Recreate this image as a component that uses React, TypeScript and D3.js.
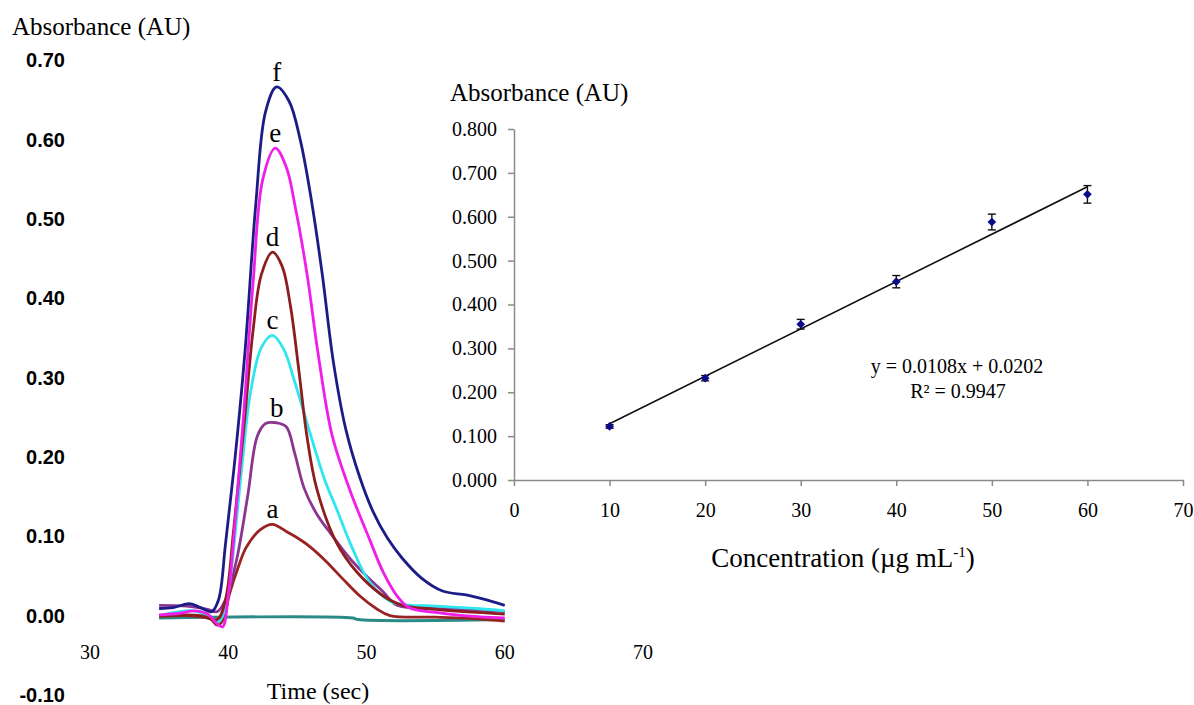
import React, { useEffect, useRef } from 'react'
import * as d3 from 'd3'

const W = 1194
const H = 705
const SERIF = '"Liberation Serif", "Times New Roman", serif'
const SANS = '"Liberation Sans", Arial, sans-serif'

// flow injection peaks: [time (sec), absorbance]
const traceA = [[35, -0.001], [37, 0.0], [38.7, -0.004], [39.2, -0.012], [39.6, -0.006], [40.1, 0.028], [40.7, 0.06], [41.3, 0.086], [42.3, 0.108], [43.2, 0.115], [44.2, 0.106], [44.9, 0.099], [45.9, 0.087], [47.1, 0.068], [48.3, 0.046], [49.5, 0.025], [50.7, 0.009], [51.7, 0.0], [55, -0.002], [58, -0.004], [60, -0.007]]
const traceB = [[35, 0.013], [37, 0.012], [38.5, 0.008], [39.2, 0.005], [39.8, 0.02], [40.6, 0.07], [41.4, 0.15], [42.1, 0.226], [42.7, 0.242], [43.5, 0.243], [44.2, 0.238], [44.8, 0.205], [45.5, 0.16], [46.4, 0.128], [47.3, 0.106], [48.8, 0.072], [50.0, 0.05], [51.2, 0.03], [52.2, 0.013], [55, 0.009], [58, 0.007], [60, 0.005]]
const traceC = [[35, 0.0], [37.5, 0.006], [38.5, 0.0], [39.3, -0.008], [39.8, 0.01], [40.2, 0.055], [41.0, 0.19], [41.6, 0.28], [42.4, 0.338], [43.2, 0.353], [44.0, 0.336], [44.8, 0.295], [46.0, 0.225], [47.0, 0.17], [47.8, 0.136], [49.0, 0.084], [50.2, 0.043], [51.7, 0.018], [52.6, 0.014], [55, 0.012], [58, 0.009], [60, 0.006]]
const traceD = [[35, 0.0], [38, 0.0], [39.2, -0.005], [39.8, 0.02], [40.4, 0.11], [41.2, 0.25], [41.8, 0.36], [42.4, 0.43], [43.2, 0.458], [43.9, 0.44], [44.5, 0.39], [45.1, 0.31], [45.7, 0.225], [46.4, 0.16], [47.8, 0.093], [49.3, 0.055], [51.2, 0.025], [52.6, 0.013], [55, 0.008], [58, 0.004], [60, 0.002]]
const traceE = [[35, 0.001], [36.5, 0.003], [37.5, 0.006], [38.5, 0.002], [39.3, -0.012], [39.6, -0.014], [40.0, 0.025], [40.5, 0.12], [41.1, 0.25], [41.8, 0.42], [42.5, 0.55], [43.4, 0.589], [44.2, 0.565], [44.9, 0.51], [45.7, 0.43], [46.5, 0.33], [47.5, 0.228], [48.8, 0.158], [50.2, 0.097], [51.2, 0.055], [52.2, 0.025], [53.1, 0.01], [55, 0.004], [57, 0.0], [60, -0.003]]
const traceF = [[35, 0.009], [36, 0.01], [37.2, 0.015], [38, 0.01], [38.8, 0.005], [39.3, 0.02], [39.8, 0.09], [40.5, 0.2], [41.2, 0.33], [42.0, 0.52], [42.7, 0.635], [43.5, 0.666], [44.4, 0.648], [45.2, 0.6], [46.0, 0.525], [46.8, 0.43], [47.6, 0.32], [48.5, 0.235], [49.5, 0.175], [50.5, 0.13], [51.5, 0.098], [52.6, 0.072], [54, 0.047], [55.5, 0.031], [57.2, 0.026], [58.4, 0.021], [60, 0.013]]
const traceBlank = [[35, -0.003], [49, -0.003], [49.4, -0.005], [60, -0.005]]

const traces = [traceA, traceB, traceC, traceD, traceE, traceF]
const traceLabels = ['a', 'b', 'c', 'd', 'e', 'f']
const traceColors = ['#9a2222', '#8c3590', '#2ee6ee', '#8e1e1e', '#f01ee8', '#1c1c86']

const timeTicks = [30, 40, 50, 60, 70]
const absTicks = [-0.1, 0, 0.1, 0.2, 0.3, 0.4, 0.5, 0.6, 0.7]

// calibration inset
const conc = [10, 20, 30, 40, 50, 60]
const meanAbs = [0.122, 0.232, 0.355, 0.452, 0.588, 0.651]
const errAbs = [0.004, 0.006, 0.011, 0.014, 0.018, 0.02]
const slope = 0.0108
const intercept = 0.0202

export default function App() {
  const svgRef = useRef<SVGSVGElement | null>(null)

  useEffect(() => {
    const svg = d3.select(svgRef.current)
    svg.selectAll('*').remove()

    // ---- left chart: peaks ----
    const x = d3.scaleLinear().domain([30, 70]).range([90, 643])
    const y = d3.scaleLinear().domain([-0.1, 0.7]).range([695, 60])

    svg.append('text')
      .attr('x', 12).attr('y', 35)
      .style('font-family', SERIF).style('font-size', '25px')
      .text('Absorbance (AU)')

    svg.append('g').selectAll('text')
      .data(absTicks)
      .enter().append('text')
      .attr('x', 65)
      .attr('y', d => y(d))
      .attr('dy', '0.36em')
      .attr('text-anchor', 'end')
      .style('font-family', SANS).style('font-size', '20px').style('font-weight', 'bold')
      .text(d => d.toFixed(2))

    svg.append('g').selectAll('text')
      .data(timeTicks)
      .enter().append('text')
      .attr('x', d => x(d))
      .attr('y', 652)
      .attr('dy', '0.35em')
      .attr('text-anchor', 'middle')
      .style('font-family', SERIF).style('font-size', '20px')
      .text(d => d)

    svg.append('text')
      .attr('x', 318).attr('y', 699)
      .attr('text-anchor', 'middle')
      .style('font-family', SERIF).style('font-size', '24px')
      .text('Time (sec)')

    const line = d3.line<number[]>()
      .x(d => x(d[0]))
      .y(d => y(d[1]))
      .curve(d3.curveCatmullRom.alpha(0.5))

    svg.append('path')
      .attr('d', line(traceBlank))
      .style('fill', 'none').style('stroke', '#2a8a88').style('stroke-width', 3)

    traces.forEach((tr, i) => {
      svg.append('path')
        .attr('d', line(tr))
        .style('fill', 'none')
        .style('stroke', traceColors[i])
        .style('stroke-width', 2.8)
        .style('stroke-linejoin', 'round')
    })

    traces.forEach((tr, i) => {
      const peak = tr.reduce((a, b) => (b[1] > a[1] ? b : a))
      svg.append('text')
        .attr('x', x(peak[0]))
        .attr('y', y(peak[1]) - 6)
        .attr('text-anchor', 'middle')
        .style('font-family', SERIF).style('font-size', '27px')
        .text(traceLabels[i])
    })

    // ---- inset: calibration curve ----
    const xr = d3.scaleLinear().domain([0, 70]).range([514, 1183])
    const yr = d3.scaleLinear().domain([0, 0.8]).range([480, 129])

    const gy = svg.append('g').attr('transform', `translate(${xr(0)},0)`)
      .call(d3.axisLeft(yr).ticks(8).tickSize(6).tickSizeOuter(0).tickPadding(11).tickFormat(d3.format('.3f')))
    const gx = svg.append('g').attr('transform', `translate(0,${yr(0)})`)
      .call(d3.axisBottom(xr).ticks(7).tickSize(6).tickSizeOuter(0).tickPadding(17))
    ;[gx, gy].forEach(g => {
      g.selectAll('path, line').style('stroke', '#8a8a8a').style('stroke-width', 1.5)
      g.selectAll('text').style('font-family', SERIF).style('font-size', '20px').style('fill', '#000')
    })

    svg.append('text')
      .attr('x', 450).attr('y', 101)
      .style('font-family', SERIF).style('font-size', '25px')
      .text('Absorbance (AU)')

    const cl = svg.append('text')
      .attr('x', 843).attr('y', 567)
      .attr('text-anchor', 'middle')
      .style('font-family', SERIF).style('font-size', '27px')
    cl.append('tspan').text('Concentration (µg mL')
    cl.append('tspan').attr('dy', -10).style('font-size', '15px').text('-1')
    cl.append('tspan').attr('dy', 10).text(')')

    const fit = d3.line<number>()
      .x(d => xr(d))
      .y(d => yr(slope * d + intercept))
    svg.append('path')
      .attr('d', fit([conc[0], conc[conc.length - 1]]))
      .style('fill', 'none').style('stroke', '#111').style('stroke-width', 1.6)

    const eb = svg.append('g')
    conc.forEach((c, i) => {
      const cx = xr(c)
      const y0 = yr(meanAbs[i] - errAbs[i])
      const y1 = yr(meanAbs[i] + errAbs[i])
      eb.append('line').attr('x1', cx).attr('x2', cx).attr('y1', y0).attr('y2', y1)
      eb.append('line').attr('x1', cx - 4).attr('x2', cx + 4).attr('y1', y0).attr('y2', y0)
      eb.append('line').attr('x1', cx - 4).attr('x2', cx + 4).attr('y1', y1).attr('y2', y1)
    })
    eb.selectAll('line').style('stroke', '#111').style('stroke-width', 1.4)

    svg.append('g').selectAll('path')
      .data(conc)
      .enter().append('path')
      .attr('d', d3.symbol().type(d3.symbolSquare).size(38)())
      .attr('transform', (d, i) => `translate(${xr(d)},${yr(meanAbs[i])}) rotate(45)`)
      .style('fill', '#0a0a8a')

    svg.append('text')
      .attr('x', 957).attr('y', 373)
      .attr('text-anchor', 'middle')
      .style('font-family', SERIF).style('font-size', '20px')
      .text(`y = ${slope}x + ${intercept}`)

    svg.append('text')
      .attr('x', 958).attr('y', 398)
      .attr('text-anchor', 'middle')
      .style('font-family', SERIF).style('font-size', '20px')
      .text('R² = 0.9947')
  }, [])

  return (
    <svg
      ref={svgRef}
      width={W}
      height={H}
      style={{ position: 'absolute', left: 0, top: 0, background: '#fff' }}
    />
  )
}
